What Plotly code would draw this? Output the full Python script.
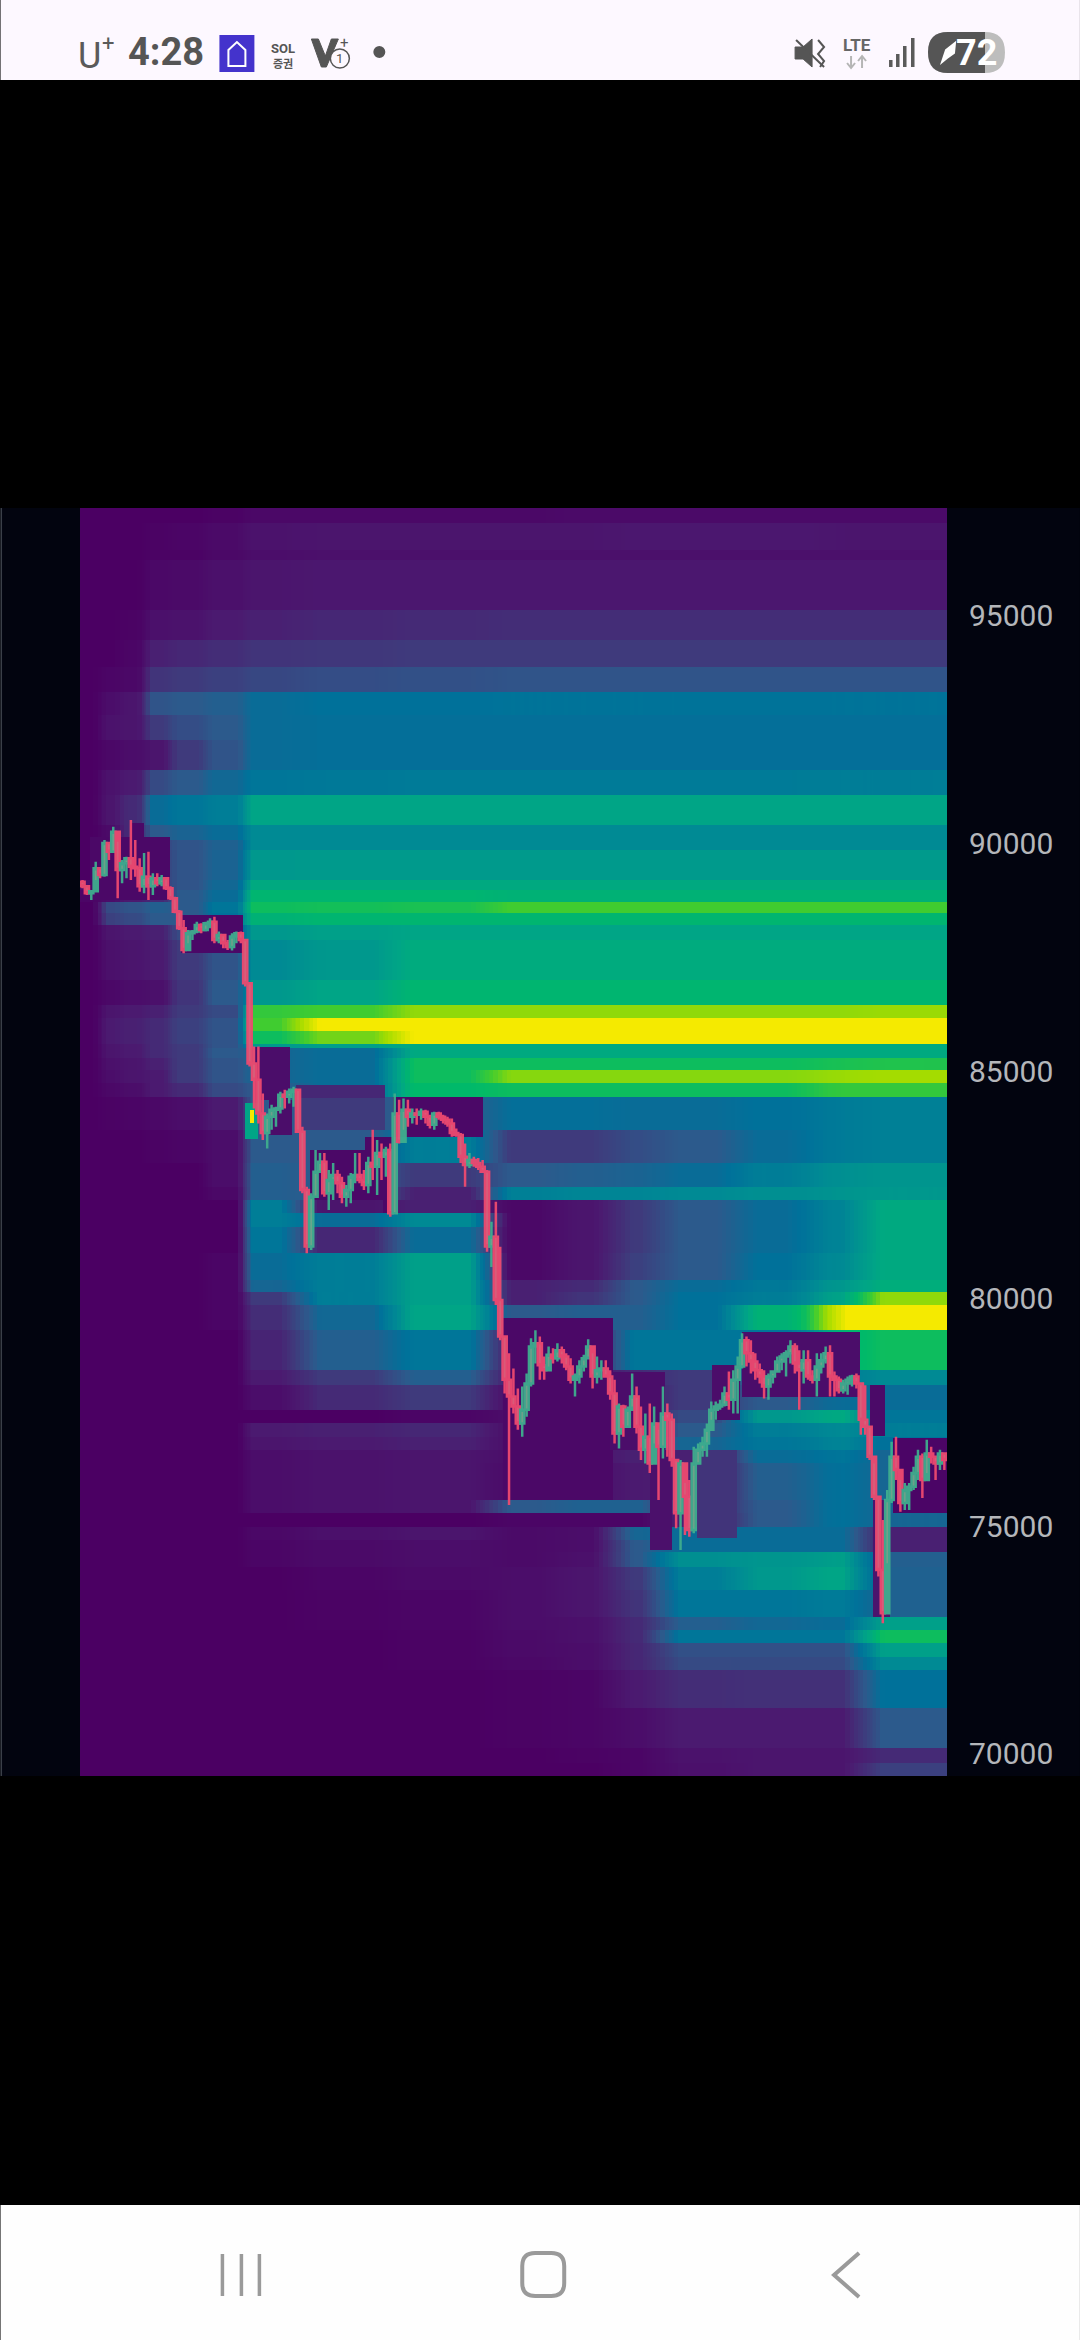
import numpy as np
import plotly.graph_objects as go

# ---------- candles ----------
high = [89200,89090,88980,89600,89460,90080,90010,90370,90040,89640,89710,90520,90080,89680,89790,89820,89350,89350,89310,89240,
89060,88830,88540,88320,88100,88100,88280,88250,88280,88360,88390,88070,87960,87880,88030,88070,88070,87880,86930,85540,
85540,84510,84070,84260,84220,84550,84590,84620,84660,84590,83780,82460,82320,83270,83200,83200,82830,82980,82830,82680,
82500,82760,83200,83200,82830,83120,83710,83490,83410,83340,83410,84510,84370,84400,84370,84180,84180,84180,84150,84040,
84110,84110,84040,84000,83960,83740,83640,83410,83200,83120,83090,83050,82830,81690,82130,81140,79170,78800,78470,78030,
78070,78360,79130,79310,79170,78730,78950,78910,79020,78950,78800,78690,78360,78650,78770,79110,78800,78730,78650,78650,
78430,78220,77700,77670,77630,78360,78070,77630,77480,77700,77630,77120,78070,77700,77480,76460,76460,75950,76020,76750,
76820,76970,77260,77740,77740,77780,78070,78400,78430,78730,79240,79170,79090,78800,78580,78430,78360,78430,78730,78800,
78870,79090,79020,78870,78870,78870,78430,78800,78800,78950,78980,78400,78290,78220,78290,78330,78360,78100,78100,77190,
76380,75580,75140,75800,76860,76970,76020,75950,75950,76310,76680,76600,76900,76750,76530,76680,76600]
low = [89020,88870,88760,89200,89240,89270,89640,89820,88800,89130,89240,89200,89270,88940,88910,88760,88870,89060,89060,88980,
88760,88470,88100,87590,87810,87880,88030,88030,88070,88140,87810,87810,87700,87660,87650,87810,87810,86860,85100,84180,
83850,83490,83300,83710,83780,84070,84180,84290,84220,83640,82320,81000,81070,82240,82760,82240,81950,82170,82320,82100,
82020,82100,82540,82540,82390,82320,82610,82280,82610,82680,81800,81880,83410,83710,83780,83850,83820,83930,83850,83740,
83710,83930,83850,83780,83560,83560,82980,82460,82870,82900,82830,82760,81030,80700,79860,79090,77920,75470,77480,77120,
76970,77410,78070,78580,78220,78220,78510,78580,78620,78580,78430,78140,77850,78140,78400,78730,78030,78140,78220,78290,
77780,76820,76710,76970,77190,77630,77040,76460,76380,76170,76820,75580,76490,76530,76310,74960,74480,74810,74770,74850,
76380,76530,76530,77340,77340,77560,77630,77560,77480,77480,78470,78510,78360,78220,78140,77810,77780,78140,78400,78430,
78290,78580,78360,77560,78140,78220,78140,77850,78360,78580,77850,77850,77920,77920,77890,78070,78030,77010,77010,76460,
75580,73900,72870,74190,75510,76020,75320,75360,75360,75800,76020,75620,76170,76380,76020,76240,76240]
close = [89060,88910,88950,89460,89310,90010,89820,90260,89420,89570,89680,89490,89460,89060,89270,89060,89240,89130,89240,89020,
88800,88500,88140,87660,88030,88070,88210,88100,88250,88280,87880,87990,87810,87730,87960,88030,87880,86930,85170,84810,
84070,83640,84000,84150,84180,84480,84440,84550,84590,83670,82390,81150,82240,82790,83010,82320,82610,82720,82540,82240,
82390,82680,82720,82610,82500,82980,82900,83200,83120,83270,81880,84070,83450,84150,84000,84070,84040,84110,84000,83820,
84070,84000,83930,83850,83640,83600,83120,82940,83050,82980,82900,82790,81150,81360,79970,79170,78220,77850,77630,77260,
77560,78140,78950,79020,78540,78430,78770,78690,78870,78730,78510,78220,78290,78510,78690,78950,78290,78430,78470,78290,
77920,77040,77630,77190,77560,77850,77190,76680,76970,76380,77260,76750,77480,77340,76460,75290,76380,75650,74920,76380,
76680,76820,77120,77560,77630,77670,77920,77780,78220,78510,79090,78800,78620,78430,78290,78070,78290,78400,78620,78730,
78800,78950,78580,78430,78650,78290,78220,78510,78650,78800,78290,78220,77990,78140,78220,78290,78140,77340,77190,76530,
75650,74040,73090,75580,76530,76240,75510,75800,75870,76170,76530,76020,76600,76530,76380,76600,76460]
open_ = [89160] + close[:-1]
candle_index = list(range(len(close)))

y_ticks = [70000, 75000, 80000, 85000, 90000, 95000]

# ---------- liquidation levels: time columns (candle index) and price bands ----------
col_edges = [-0.57,4.1,8.6,14.3,20,28,37,49.5,70.7,92.7,108,120.7,131.4,148.9,164.8,169.3,177.5,196.6]
band_edges = [97372,97043,96450,96230,95131,94472,93879,93330,92824,92275,91616,91067,90408,90078,89859,89199,88980,88716,88474,88211,
87881,87002,86453,86167,85881,85596,85508,85289,85025,84740,84432,83707,82982,82455,82169,81883,81576,81005,80412,80148,
79862,79313,78434,78105,77556,77270,76962,76676,76390,75578,75293,74985,74699,74436,74106,73601,73008,72722,72436,72129,
71844,71009,70130,69800,69515]
band_values = [
[0,0,0,0,0,.01,.03,.03,.03,.03,.04,.04,.04,.04,.04,.04,.04],
[0,0,0,.01,.02,.04,.07,.08,.08,.08,.08,.09,.09,.09,.09,.08,.08],
[0,0,0,.01,.01,.03,.05,.06,.06,.06,.06,.06,.06,.06,.06,.06,.06],
[0,0,0,.03,.04,.06,.08,.09,.09,.09,.09,.09,.09,.09,.09,.09,.09],
[0,0,.01,.06,.07,.10,.12,.14,.15,.16,.16,.16,.16,.16,.16,.16,.16],
[0,0,.02,.12,.14,.16,.18,.19,.20,.20,.20,.20,.20,.20,.20,.20,.20],
[0,.02,.03,.18,.20,.22,.24,.26,.27,.28,.28,.28,.28,.28,.28,.28,.28],
[0,.05,.08,.28,.30,.32,.38,.40,.40,.41,.41,.41,.41,.41,.41,.41,.41],
[0,.07,.08,.20,.26,.30,.38,.39,.39,.39,.39,.39,.39,.39,.39,.39,.39],
[0,.03,.05,.08,.20,.28,.38,.39,.39,.39,.39,.39,.39,.39,.39,.39,.39],
[0,.07,.10,.25,.30,.36,.42,.43,.44,.44,.44,.44,.44,.44,.45,.45,.45],
[0,.08,.15,.38,.42,.45,.60,.60,.60,.60,.60,.60,.60,.60,.60,.60,.60],
[0,.04,.15,.30,.34,.38,.50,.50,.50,.50,.50,.50,.50,.50,.50,.50,.50],
[0,.10,.15,.22,.28,.33,.50,.50,.50,.50,.50,.50,.50,.50,.50,.50,.50],
[0,.10,.15,.20,.28,.34,.55,.56,.56,.56,.56,.56,.56,.56,.56,.56,.56],
[.05,.10,.15,.20,.28,.36,.62,.62,.62,.62,.62,.62,.62,.62,.62,.62,.62],
[.02,.05,.10,.15,.30,.38,.68,.68,.68,.66,.66,.66,.66,.66,.66,.66,.66],
[0,.25,.28,.32,.30,.42,.72,.73,.74,.80,.80,.80,.80,.80,.80,.80,.80],
[0,.22,.25,.30,.30,.40,.66,.68,.68,.68,.68,.68,.68,.68,.68,.68,.68],
[0,.08,.10,.12,.25,.30,.55,.58,.60,.60,.60,.60,.60,.60,.60,.60,.60],
[0,.06,.08,.10,.20,.28,.50,.55,.63,.63,.63,.63,.63,.63,.63,.63,.63],
[0,.03,.05,.06,.18,.30,.55,.60,.68,.68,.68,.68,.68,.68,.68,.68,.68],
[0,.08,.10,.12,.20,.25,.78,.80,.88,.88,.88,.88,.88,.88,.88,.88,.89],
[0,.10,.12,.15,.22,.28,.80,1,1,1,1,1,1,1,1,1,1],
[0,.10,.12,.15,.22,.28,.72,.85,1,1,1,1,1,1,1,1,1],
[0,.08,.10,.15,.20,.28,.55,.58,.62,.62,.62,.62,.62,.62,.62,.62,.62],
[0,.08,.10,.15,.20,.30,.35,.38,.62,.62,.62,.62,.62,.62,.62,.62,.62],
[0,.06,.08,.12,.20,.28,.35,.38,.72,.72,.72,.72,.72,.72,.73,.74,.75],
[0,.05,.08,.10,.20,.28,.35,.38,.72,.87,.87,.87,.87,.87,.88,.89,.90],
[0,.03,.05,.10,.15,.25,.30,.38,.70,.72,.72,.72,.72,.72,.76,.78,.78],
[0,.01,.02,.03,.05,.10,.30,.30,.30,.39,.39,.38,.38,.40,.42,.44,.46],
[0,0,0,.01,.02,.05,.30,.30,.45,.20,.20,.26,.30,.38,.42,.44,.46],
[0,0,0,0,0,.05,.32,.30,.20,.30,.32,.34,.38,.45,.50,.52,.54],
[0,0,0,0,0,.03,.32,.30,.12,.46,.48,.48,.50,.52,.52,.54,.55],
[0,0,0,0,0,0,.45,.08,.12,.03,.08,.20,.30,.38,.45,.48,.62],
[0,0,0,0,0,0,.45,.38,.50,.03,.08,.20,.30,.38,.45,.48,.62],
[0,0,0,0,0,0,.42,.14,.38,.03,.08,.20,.30,.38,.45,.48,.62],
[0,0,0,0,0,.02,.38,.45,.58,.03,.08,.22,.30,.40,.48,.50,.62],
[0,0,0,0,0,.02,.35,.45,.58,.12,.15,.30,.38,.43,.52,.55,.64],
[0,0,0,0,0,.02,.20,.45,.58,.12,.18,.30,.40,.45,.55,.60,.88],
[0,0,0,0,0,.02,.16,.36,.60,.30,.32,.32,.40,.66,.80,1,1],
[0,0,0,0,0,0,.13,.32,.42,.10,.10,.42,.42,.42,.55,.68,.72],
[0,0,0,0,0,0,.10,.20,.32,.10,.08,.15,.20,.35,.40,.45,.50],
[0,0,0,0,0,0,.05,.15,.20,.05,.05,.10,.20,.30,.36,.38,.38],
[0,0,0,0,0,0,0,0,.02,.05,.05,.10,.25,.55,.60,.62,.42],
[0,0,0,0,0,0,.10,.12,.14,.05,.08,.10,.30,.45,.48,.50,.45],
[0,0,0,0,0,0,.08,.10,.12,.05,.08,.12,.35,.42,.45,.48,.40],
[0,0,0,0,0,0,.05,.07,.08,.05,.08,.12,.12,.38,.40,.42,.35],
[0,0,0,0,0,0,.05,.07,.08,.04,.06,.10,.12,.32,.38,.40,.35],
[0,0,0,0,0,0,.05,.07,.08,.30,.33,.33,.15,.30,.38,.40,.35],
[0,0,0,0,0,0,0,0,0,.02,.02,.02,.12,.30,.38,.40,.35],
[0,0,0,0,0,0,.03,.06,.08,.04,.05,.35,.38,.38,.38,.38,.12],
[0,0,0,0,0,0,.02,.04,.05,.04,.05,.30,.38,.38,.38,.38,.12],
[0,0,0,0,0,0,.02,.04,.05,.04,.06,.30,.52,.54,.56,.58,.32],
[0,0,0,0,0,0,0,.02,.04,.05,.08,.20,.45,.55,.60,.60,.33],
[0,0,0,0,0,0,0,.01,.02,.05,.08,.18,.42,.42,.44,.44,.33],
[0,0,0,0,0,0,0,.01,.02,.05,.06,.15,.32,.36,.38,.38,.58],
[0,0,0,0,0,0,0,0,.01,.04,.06,.15,.42,.42,.42,.42,.72],
[0,0,0,0,0,0,0,0,.01,.04,.05,.14,.27,.27,.27,.27,.58],
[0,0,0,0,0,0,0,0,.01,.03,.05,.14,.25,.25,.25,.25,.50],
[0,0,0,0,0,0,0,0,0,.01,.02,.10,.16,.17,.17,.17,.40],
[0,0,0,0,0,0,0,0,0,.01,.02,.05,.10,.10,.10,.10,.30],
[0,0,0,0,0,0,0,0,0,0,.01,.02,.07,.08,.08,.08,.15],
[0,0,0,0,0,0,0,0,0,0,0,.02,.06,.08,.08,.08,.22],
]
# cleared zones around the price path: (candle from, candle to, price low, price high, level)
cleared = [
(1.8,20,88760,90144,.03),(10.9,13.9,90144,90452,.03),(22.3,36.6,87596,88431,.03),
(39.3,47.3,84366,85530,.05),(42.3,47.7,83597,84366,.05),(48.6,68.9,84410,84696,.14),
(48.6,68.9,83707,84410,.20),(51.8,68.9,82170,83268,.03),(64.3,70.5,83268,83553,.03),
(68.4,70.5,81883,83553,.03),(70.7,91.1,83553,84432,.03),(95.7,120.7,75578,79577,.03),
(120,132.5,76676,78390,.05),(129,134,74480,76676,.06),(139.8,148.9,74743,76676,.18),
(143.2,149.5,77335,78543,.05),(150,176.8,77841,79270,.05),(179,182.5,76995,78105,.04),
(184.3,196.6,75292,76951,.02),(179.8,183.6,73008,75578,.08),
(37,40,83500,84300,.6),(38,39,83860,84146,1.0),
]

# ---------- build the level grid ----------
col_arr = np.array(col_edges)
fine = np.arange(col_edges[0], col_edges[-1], 1.0)
xe = np.union1d(np.union1d(col_edges, fine), [c[0] for c in cleared] + [c[1] for c in cleared])
ye = np.union1d(band_edges, [c[2] for c in cleared] + [c[3] for c in cleared])
xc, yc = (xe[:-1] + xe[1:]) / 2, (ye[:-1] + ye[1:]) / 2
vals = np.array(band_values)
be = np.array(band_edges)[::-1]
cum = np.concatenate([np.zeros((vals.shape[0], 1)), np.cumsum(vals * np.diff(col_arr), axis=1)], axis=1)
def level(r, xv):
    # the video softens each band across time: average over a short window
    w = 1.6 if xv < 42 else 4.5
    a, b = max(xv - w, col_arr[0]), min(xv + w, col_arr[-1])
    return (np.interp(b, col_arr, cum[r]) - np.interp(a, col_arr, cum[r])) / (b - a)
z = np.zeros((len(yc), len(xc)))
for j, yv in enumerate(yc):
    r = len(band_values) - 1 - (np.searchsorted(be, yv) - 1)
    for i, xv in enumerate(xc):
        z[j, i] = level(r, xv)
        for c in cleared:
            if c[0] <= xv <= c[1] and c[2] <= yv <= c[3]:
                z[j, i] = c[4]

colorscale = [[0,"#4b0063"],[.1,"#4b1a70"],[.2,"#3f3a7c"],[.3,"#2c5a8c"],[.4,"#00719a"],[.5,"#008a94"],
              [.6,"#00a586"],[.7,"#00b96a"],[.8,"#40cc30"],[.9,"#a4dc00"],[1,"#f5ea00"]]

# ---------- figure ----------
L, R, T, B = 79.5, 947, 508, 1776
W, H = 1080, 2340
fig = go.Figure()
fig.add_heatmap(x=xe, y=ye, z=z, colorscale=colorscale, zmin=0, zmax=1, showscale=False, hoverinfo="skip")
fig.add_candlestick(x=candle_index, open=open_, high=high, low=low, close=close,
                    increasing=dict(line=dict(color="#3fae8e", width=2.5), fillcolor="#6fa98c"),
                    decreasing=dict(line=dict(color="#ee4a70", width=2.5), fillcolor="#e0607a"),
                    whiskerwidth=0, opacity=0.95, showlegend=False)

def px(x): return (x - L) / (R - L)
def py(y): return 1 - (y - T) / (B - T)

shapes, ann = [], []
def rect(x0, y0, x1, y1, fill, line=None, layer="below"):
    shapes.append(dict(type="rect", xref="paper", yref="paper", x0=px(x0), x1=px(x1), y0=py(y0), y1=py(y1),
                       fillcolor=fill, line=dict(width=0 if line is None else 1, color=line or fill), layer=layer))
def path(pts, color, width=3, fill=None, close_=False):
    d = "M" + " L".join(f"{px(a)},{py(b)}" for a, b in pts) + (" Z" if close_ else "")
    shapes.append(dict(type="path", xref="paper", yref="paper", path=d, line=dict(color=color, width=width),
                       fillcolor=fill or "rgba(0,0,0,0)", layer="above"))
def text(x, y, s, size, color, font="Roboto", anchor="center"):
    ann.append(dict(x=px(x), y=py(y), xref="paper", yref="paper", text=s, showarrow=False, xanchor=anchor,
                    yanchor="middle", font=dict(family=font, size=size, color=color)))
def pill(x0, y0, x1, y1, r, fill, line=None, width=0):
    d = (f"M{px(x0+r)},{py(y0)} L{px(x1-r)},{py(y0)} Q{px(x1)},{py(y0)} {px(x1)},{py(y0+r)} L{px(x1)},{py(y1-r)} "
         f"Q{px(x1)},{py(y1)} {px(x1-r)},{py(y1)} L{px(x0+r)},{py(y1)} Q{px(x0)},{py(y1)} {px(x0)},{py(y1-r)} "
         f"L{px(x0)},{py(y0+r)} Q{px(x0)},{py(y0)} {px(x0+r)},{py(y0)} Z")
    shapes.append(dict(type="path", xref="paper", yref="paper", path=d, layer="above", fillcolor=fill,
                       line=dict(color=line or fill, width=width)))

rect(0, T, W, B, "#02040f")
rect(0, T, 1.5, B, "#3a3f48")
# status bar
rect(0, 0, W, 80, "#fdf8ff", layer="above")
text(75, 56, "U", 36, "#5a5a5a", anchor="left")
text(100, 43, "+", 22, "#5a5a5a", anchor="left")
text(126, 52, "<b>4:28</b>", 38, "#555555", anchor="left")
rect(219, 35, 254, 72, "#4433cc", layer="above")
path([(228, 66), (228, 50), (236.5, 42), (245, 50), (245, 66)], "#ffffff", 2, close_=True)
text(283, 48, "<b>SOL</b>", 13, "#555555")
text(283, 63, "<b>증권</b>", 11, "#555555", font="Noto Sans CJK KR")
path([(311, 39), (321, 67), (326, 67), (338, 39), (331, 39), (325, 56), (318, 39)], "#555555", 1, fill="#555555", close_=True)
text(344, 43, "+", 15, "#555555")
shapes.append(dict(type="circle", xref="paper", yref="paper", x0=px(330), x1=px(349), y0=py(68), y1=py(49),
                   fillcolor="#fdf8ff", line=dict(color="#555555", width=1.5), layer="above"))
text(339.5, 58.5, "1", 13, "#555555")
shapes.append(dict(type="circle", xref="paper", yref="paper", x0=px(373), x1=px(385), y0=py(58), y1=py(46),
                   fillcolor="#555555", line=dict(width=0), layer="above"))
path([(795, 47), (803, 47), (812, 39), (812, 67), (803, 59), (795, 59)], "#555555", 1, fill="#555555", close_=True)
path([(796, 40), (824, 67)], "#555555", 2)
path([(818, 40), (824, 47), (818, 54), (824, 61), (820, 67)], "#555555", 2)
text(857, 45, "<b>LTE</b>", 17, "#666666")
path([(851, 56), (851, 68)], "#b5b5b5", 2); path([(847, 63), (851, 68), (855, 63)], "#b5b5b5", 2)
path([(862, 56), (862, 68)], "#b5b5b5", 2); path([(858, 61), (862, 56), (866, 61)], "#b5b5b5", 2)
for a, b in [(889, 60), (896, 54), (903, 46), (911, 38)]:
    rect(a, b, a + 3.5, 67, "#5a5a5a", layer="above")
pill(928, 32, 1005, 73, 20, "#bdbdbd")
shapes.append(dict(type="path", xref="paper", yref="paper", layer="above", fillcolor="#555555", line=dict(width=0),
                   path=f"M{px(985)},{py(32)} L{px(948)},{py(32)} Q{px(928)},{py(32)} {px(928)},{py(52)} Q{px(928)},{py(73)} {px(948)},{py(73)} L{px(985)},{py(73)} Z"))
text(977, 53, "<b>72</b>", 36, "#ffffff")
path([(942, 62), (946, 50), (955, 43), (954, 53), (947, 58)], "#ffffff", 2, fill="#ffffff", close_=True)
# navigation bar
rect(0, 2205, W, H, "#fefefe", layer="above")
for x in (222, 241, 259):
    path([(x, 2254), (x, 2296)], "#9a9a9a", 3.5)
pill(522, 2253, 564, 2296, 13, "rgba(0,0,0,0)", line="#9a9a9a", width=4)
path([(859, 2253), (834, 2275), (859, 2297)], "#9a9a9a", 4)

fig.update_layout(
    width=W, height=H, margin=dict(l=L, r=W - R, t=T, b=H - B, pad=0),
    paper_bgcolor="#000000", plot_bgcolor="#4b0063", shapes=shapes, annotations=ann,
    boxgap=0.05, boxgroupgap=0, showlegend=False,
    xaxis=dict(range=[col_edges[0], col_edges[-1]], visible=False, rangeslider=dict(visible=False), fixedrange=True),
    yaxis=dict(range=[band_edges[-1], band_edges[0]], side="right", tickvals=y_ticks, tickformat="d", ticks="",
               showgrid=False, zeroline=False, showline=False, ticklabelstandoff=21,
               tickfont=dict(family="Roboto", size=30, color="#b4b6ba"), fixedrange=True),
)
fig.write_html("out.html", post_script="document.body.style.margin='0';document.documentElement.style.overflow='hidden';",
               config={"displayModeBar": False})
